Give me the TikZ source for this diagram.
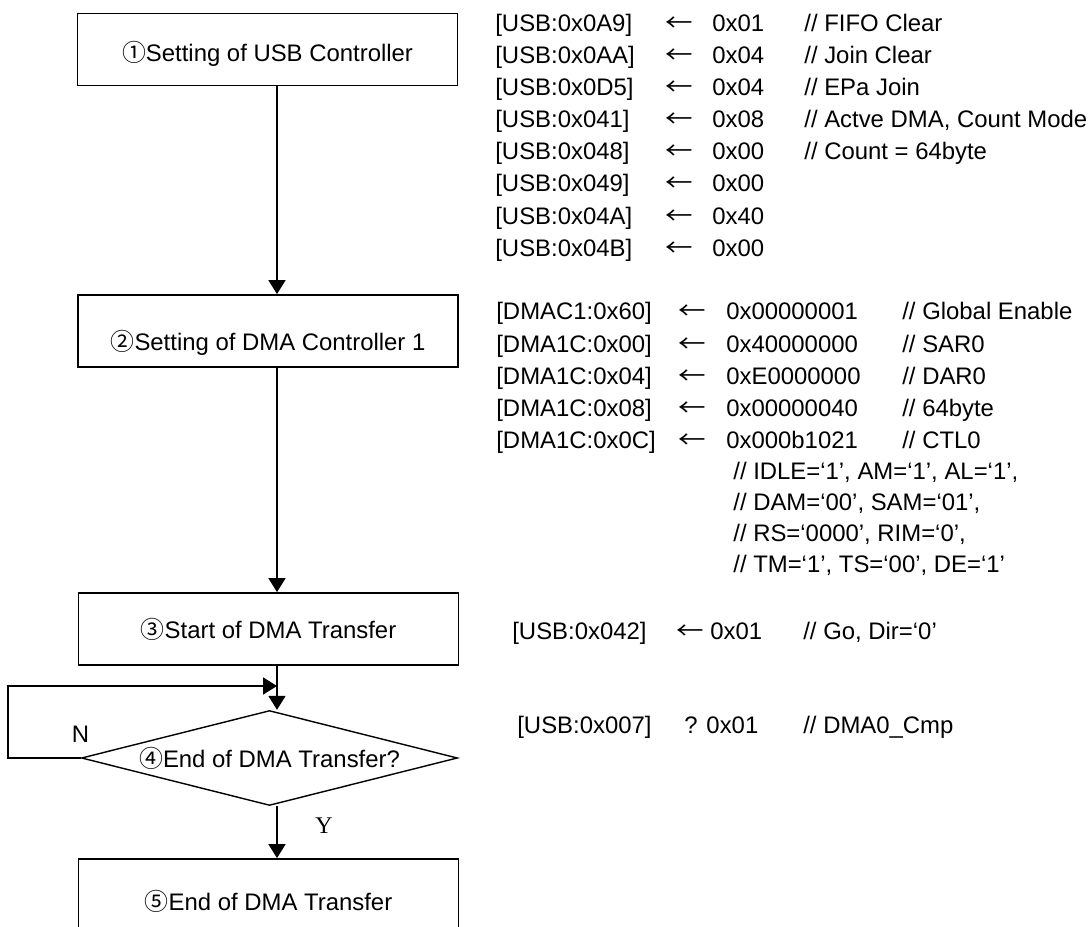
\documentclass[tikz,border=0pt]{standalone}
\usepackage{fontspec}
\setmainfont{Liberation Sans}
\newfontfamily\circfont{Noto Sans CJK JP}
\newfontfamily\yfont{Liberation Serif}
\usetikzlibrary{arrows.meta,shapes.geometric}
\newcommand{\stepno}[1]{{\circfont #1}}
\newcommand{\getsarrow}{{\circfont\scalebox{1.15}[1]{←}}}

\begin{document}
\begin{tikzpicture}[>={Triangle[length=0.28cm,width=0.34cm]},
  every node/.style={font=\fontsize{13.6}{18}\selectfont},
  box/.style={draw,line width=1pt,minimum width=7.6cm,minimum height=1.44cm,text depth=0pt},
  decision/.style={draw,diamond,line width=0.8pt,minimum width=7.52cm,minimum height=1.9cm,inner sep=0pt,aspect=3.96},
  regtext/.style={anchor=base west,inner sep=0pt},
  flow/.style={->,line width=1pt}]
\useasboundingbox (0,0) rectangle (21.78,-18.54);

% flow chart
\node[box,text height=13.7pt] (b1) at (5.35,-0.99) {\stepno{①}Setting of USB Controller};
\node[box,text height=21.9pt] (b2) at (5.36,-6.62) {\stepno{②}Setting of DMA Controller 1};
\node[box,text height=11pt] (b3) at (5.37,-12.58) {\stepno{③}Start of DMA Transfer};
\node[decision] (d4) at (5.39,-15.16) {\stepno{④}End of DMA Transfer?};
\node[box,minimum height=1.72cm,text height=9.8pt] (b5) at (5.37,-18.04) {\stepno{⑤}End of DMA Transfer};

\coordinate (spine) at (5.54,0);
\coordinate (loop) at (0.166,-13.72);
\draw[flow] (b1.south -| spine) -- (b2.north -| spine);
\draw[flow] (b2.south -| spine) -- (b3.north -| spine);
\draw[flow] (b3.south -| spine) -- (d4.north -| spine);
\draw[flow] (d4.west) -- (d4.west -| loop) -- (loop) -- (loop -| spine);
\draw[flow] (d4.south -| spine) -- (b5.north -| spine);
\node (no) at (1.61,-14.69) {N};
\node[font=\yfont\fontsize{13.6}{18}\selectfont] (yes) at (6.48,-16.51) {Y};

% USB controller registers
\foreach \reg/\val [count=\i] in {0x0A9/0x01,0x0AA/0x04,0x0D5/0x04,0x041/0x08,
    0x048/0x00,0x049/0x00,0x04A/0x40,0x04B/0x00}{
  \node[regtext] (usbreg\i) at (9.9,{-0.63-0.642*(\i-1)}) {[USB:\reg]};
  \node[regtext] (usbarr\i) at (13.3,{-0.63-0.642*(\i-1)}) {\getsarrow};
  \node[regtext] (usbval\i) at (14.24,{-0.63-0.642*(\i-1)}) {\val};}
\foreach \cmt [count=\i] in {FIFO Clear,Join Clear,EPa Join,{Actve DMA, Count Mode},Count = 64byte}{
  \node[regtext] (usbcmt\i) at (16.08,{-0.63-0.642*(\i-1)}) {// \cmt};}

% DMA controller registers
\foreach \reg/\val/\cmt [count=\i] in {{DMAC1:0x60}/0x00000001/Global Enable,
    {DMA1C:0x00}/0x40000000/SAR0,{DMA1C:0x04}/0xE0000000/DAR0,
    {DMA1C:0x08}/0x00000040/64byte,{DMA1C:0x0C}/0x000b1021/CTL0}{
  \node[regtext] (dmareg\i) at (9.92,{-6.4-0.645*(\i-1)}) {[\reg]};
  \node[regtext] (dmaarr\i) at (13.56,{-6.4-0.645*(\i-1)}) {\getsarrow};
  \node[regtext] (dmaval\i) at (14.52,{-6.4-0.645*(\i-1)}) {\val};
  \node[regtext] (dmacmt\i) at (18.04,{-6.4-0.645*(\i-1)}) {// \cmt};}
\foreach \bits [count=\i] in {{IDLE=‘1’, AM=‘1’, AL=‘1’,},{DAM=‘00’, SAM=‘01’,},
    {RS=‘0000’, RIM=‘0’,},{TM=‘1’, TS=‘00’, DE=‘1’}}{
  \node[regtext] (ctl\i) at (14.66,{-9.6-0.62*(\i-1)}) {// \bits};}

% start and end check
\node[regtext] (goreg) at (10.24,-12.8) {[USB:0x042]};
\node[regtext] (goarr) at (13.52,-12.8) {\getsarrow};
\node[regtext] (goval) at (14.2,-12.8) {0x01};
\node[regtext] (gocmt) at (16.06,-12.8) {// Go, Dir=‘0’};
\node[regtext] (cmpreg) at (10.34,-14.68) {[USB:0x007]};
\node[regtext] (cmpval) at (13.68,-14.68) {? 0x01};
\node[regtext] (cmpcmt) at (16.06,-14.68) {// DMA0\_Cmp};
\end{tikzpicture}
\end{document}
